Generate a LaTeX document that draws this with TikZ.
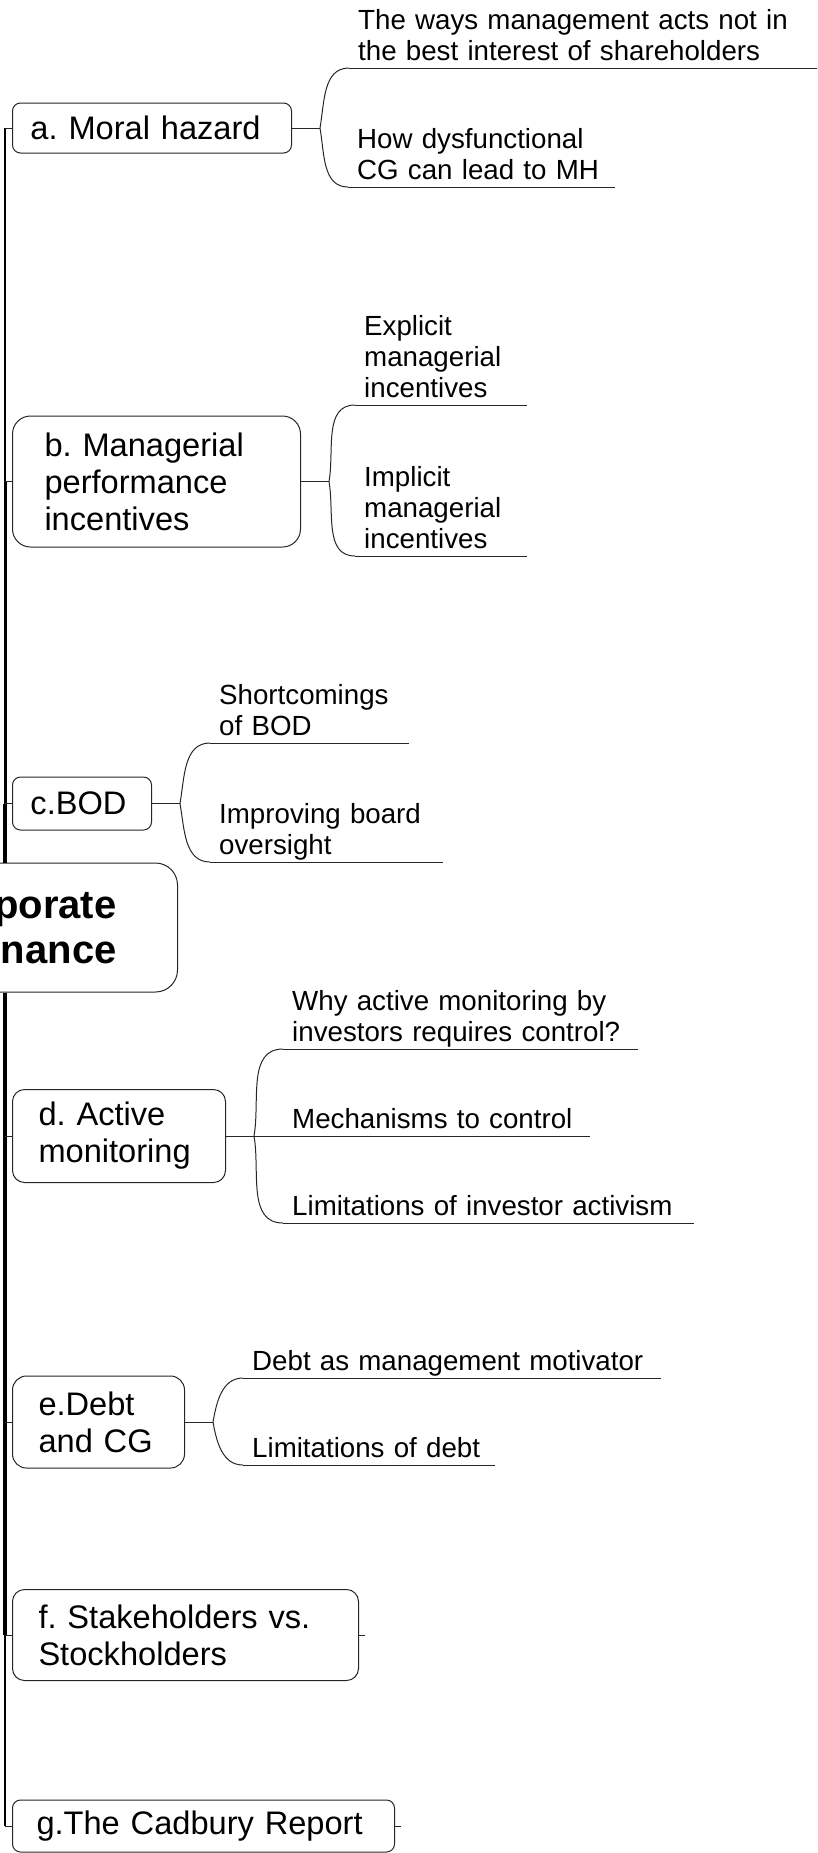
\documentclass[tikz,border=0pt]{standalone}
\usepackage{fontspec}
\setmainfont{Liberation Sans}
\frenchspacing
\tikzstyle{topic}=[draw=black!85, line width=1pt, anchor=west, align=left, inner ysep=0pt, font=\fontsize{32.6}{37}\selectfont]
\tikzstyle{leaf}=[anchor=south west, align=left, inner xsep=9pt, inner ysep=1pt, font=\fontsize{27.7}{31}\selectfont, execute at end node={\rule[-6.5pt]{0pt}{6.5pt}}]
\tikzstyle{edge}=[draw=black!85, line width=1pt]
\tikzstyle{trunk}=[draw=black, line cap=butt]

\begin{document}
\begin{tikzpicture}[x=1pt, y=-1pt]
    \useasboundingbox (0,0) rectangle (817,1853);
    \clip (0,0) rectangle (817,1853);

    % the central topic, most of it sits off the left edge
    \node[draw=black!85, line width=1pt, rounded corners=22pt, anchor=east, align=right,
          minimum height=129pt, inner xsep=61pt, font=\bfseries\fontsize{40}{45}\selectfont]
        (root) at (178,927.5) {Corporate\\Governance};

    % main topics
    \foreach \pos/\name/\tw/\hgt/\pad/\rad/\txt in {
        {(12,128)/a/243/50/18/8/a. Moral hazard},
        {(12,481.5)/b/224/131/32/18/b. Managerial\\performance\\incentives},
        {(12,803.5)/c/103/53/18/8/c.BOD},
        {(12,1136)/d/161/93/26/12/d. Active\\monitoring},
        {(12,1422)/e/120/92/26/14/e.Debt\\and CG},
        {(12,1635)/f/294/91/26/12/f. Stakeholders vs.\\Stockholders},
        {(12,1826)/g/334/52/24/8/g.The Cadbury Report}}
        \node[topic, text width=\tw pt, minimum height=\hgt pt, inner xsep=\pad pt, rounded corners=\rad pt] (\name) at \pos {\txt};

    % subtopics, each sits on its own underline
    \foreach \pos/\name/\tw/\txt in {
        {(349,68)/a1/513/The ways management acts not in\\the best interest of shareholders},
        {(348,187)/a2/249/How dysfunctional\\CG can lead to MH},
        {(355,405)/b1/154/Explicit\\managerial\\incentives},
        {(355,556)/b2/154/Implicit\\managerial\\incentives},
        {(210,743)/c1/181/Shortcomings\\of BOD},
        {(210,862)/c2/215/Improving board\\oversight},
        {(283,1049)/d1/337/Why active monitoring by\\investors requires control?},
        {(283,1136)/d2/289/Mechanisms to control},
        {(283,1223)/d3/393/Limitations of investor activism},
        {(243,1378)/e1/400/Debt as management motivator},
        {(243,1465)/e2/234/Limitations of debt}}
        \node[leaf, text width=\tw pt] (\name) at \pos {\txt};

    \foreach \name in {a1,a2,b1,b2,c1,c2,d1,d2,d3,e1,e2}
        \path[edge] (\name.south west) -- (\name.south east);

    % trunk on the left, from the central topic to every main topic
    \coordinate (bar) at (5,0);
    \foreach \name/\lw in {a/1.8pt, b/3pt, c/4pt}
        \path[trunk, line width=\lw] (bar |- root.north) -- (bar |- \name.west);
    \foreach \name/\lw in {d/4pt, e/3.6pt, f/3.2pt, g/1.5pt}
        \path[trunk, line width=\lw] (bar |- root.south) -- (bar |- \name.west);
    \foreach \name in {a,b,c,d,e,f,g}
        \path[edge] (bar |- \name.west) -- (\name.west);

    % brackets from the main topics to their subtopics
    \foreach \name in {a,b,c,d,e}
        \path[edge] (\name.east) -- ++(28,0) coordinate (\name-j);
    \foreach \source/\dest/\ang in {a/a1/80, a/a2/-80, b/b1/80, b/b2/-80, c/c1/80, c/c2/-80,
                                    d/d1/80, d/d2/0, d/d3/-80, e/e1/80, e/e2/-80}
        \path[edge] (\source-j) to[out=\ang, in=180] (\dest.south west);

    % collapsed stubs
    \foreach \name in {f,g}
        \path[edge] (\name.east) -- ++(6,0);
\end{tikzpicture}
\end{document}
